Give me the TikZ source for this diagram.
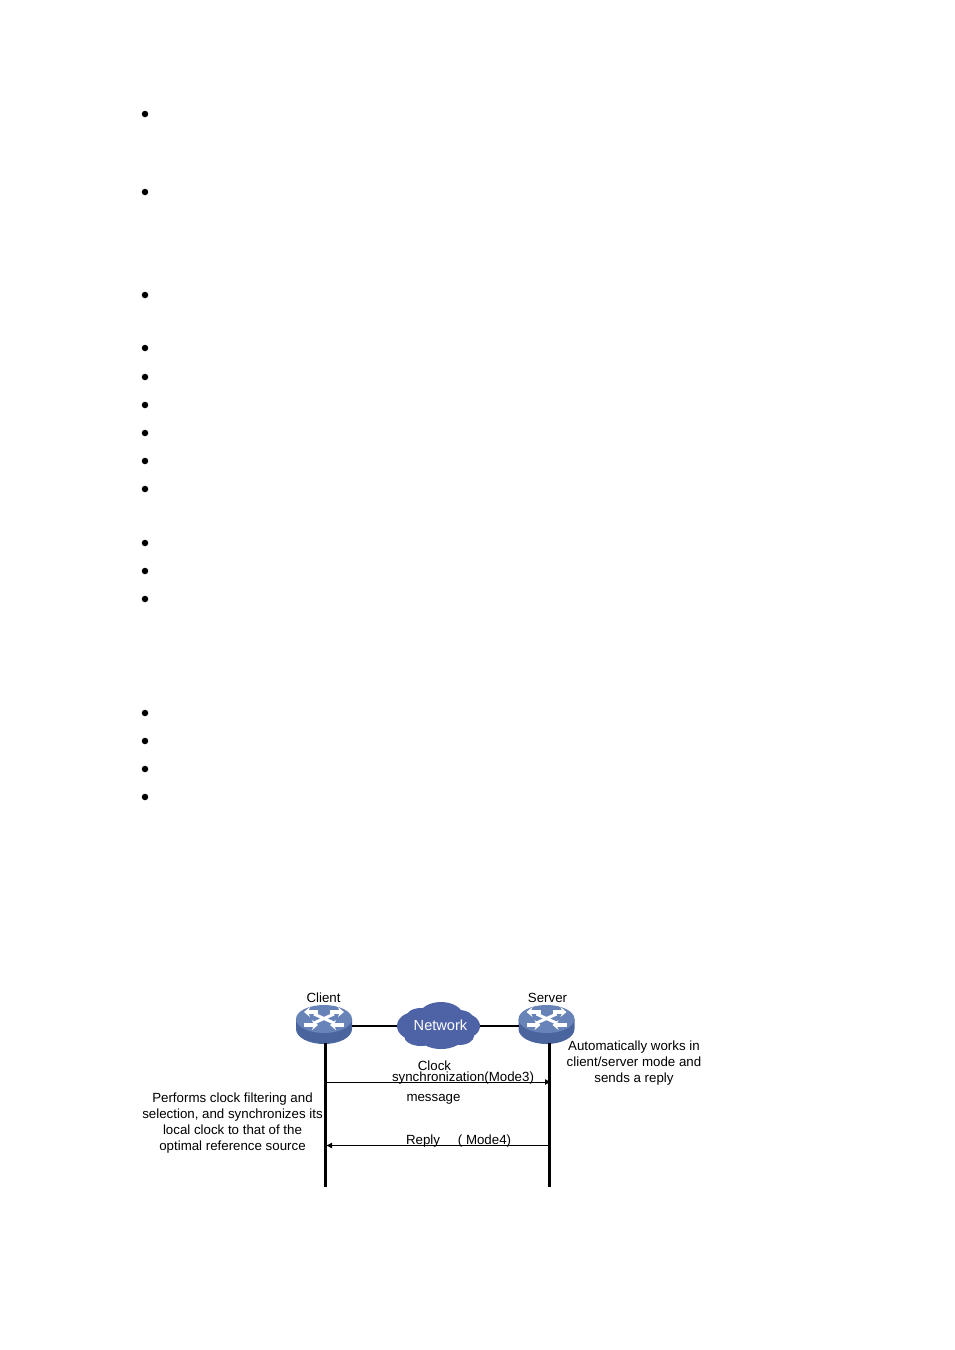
\documentclass[tikz,border=0pt]{standalone}
\usepackage{fontspec}
\setmainfont{Liberation Sans}
\usetikzlibrary{arrows.meta}
\definecolor{swtop}{RGB}{104,131,184}
\definecolor{swside}{RGB}{74,100,158}
\definecolor{netblue}{RGB}{78,98,166}
\tikzset{
  label/.style={font=\fontsize{13.3}{16}\selectfont, align=center, inner sep=0pt},
  bullet/.style={circle, fill=black, inner sep=0pt, minimum size=6.5pt},
  wire/.style={line width=2pt},
  life/.style={line width=2.6pt},
  msg/.style={line width=0.8pt, -{Latex[length=6pt,width=6pt]}},
  swarrow/.style={white, line width=3.4pt, -{Stealth[length=6pt,width=10pt]}},
  switchicon/.pic={
    \fill[swside] (-28,-10) -- (-28,0) arc[start angle=180, end angle=0, x radius=28, y radius=15] -- (28,-10) -- cycle;
    \fill[swtop] (0,-10) ellipse[x radius=28, y radius=14];
    \draw[swarrow] (-6,-17) -- (-20,-17);
    \draw[swarrow] (6,-17) -- (20,-17);
    \draw[swarrow] (-20,-4) -- (-6,-4);
    \draw[swarrow] (20,-4) -- (6,-4);
    \draw[white, line width=3pt] (-10,-15) -- (10,-6) (10,-15) -- (-10,-6);
  }
}
\begin{document}
\begin{tikzpicture}[x=1pt,y=-1pt]
  \useasboundingbox (0,0) rectangle (954,1350);
  % bullets
  \foreach \y [count=\i] in {114,192,295,348,377,405,433,461,489,543,571,599,713,741,769,797}
    \node[bullet] (b\i) at (145,\y) {};
  % cloud
  \fill[netblue] (438,1026) ellipse[x radius=41, y radius=15]
    (415,1026) ellipse[x radius=18, y radius=14]
    (462,1026) ellipse[x radius=18, y radius=13]
    (421,1017) ellipse[x radius=15, y radius=9]
    (441,1016) ellipse[x radius=22, y radius=14]
    (459,1018) ellipse[x radius=14, y radius=8]
    (421,1036) ellipse[x radius=17, y radius=10]
    (441,1037) ellipse[x radius=22, y radius=12]
    (459,1036) ellipse[x radius=15, y radius=9];
  \node[label, white, font=\fontsize{14.6}{16}\selectfont] (network) at (440.5,1025.5) {Network};
  \coordinate (netleft) at (397,1026);
  \coordinate (netright) at (480,1026);
  % devices
  \pic at (324,1029) {switchicon};
  \pic at (546.5,1029) {switchicon};
  \coordinate (clientport) at (352,1026);
  \coordinate (serverport) at (519,1026);
  \coordinate (clienttop) at (325.5,1043);
  \coordinate (servertop) at (549.5,1043);
  \coordinate (clientend) at (325.5,1187);
  \coordinate (serverend) at (549.5,1187);
  \node[label] (client) at (323.5,998) {Client};
  \node[label] (server) at (547.5,998) {Server};
  \draw[wire] (clientport) -- (netleft);
  \draw[wire] (netright) -- (serverport);
  \draw[life] (clienttop) -- (clientend);
  \draw[life] (servertop) -- (serverend);
  % messages
  \coordinate (clockfrom) at (325.5,1082);
  \coordinate (clockto) at (551,1082);
  \coordinate (replyfrom) at (549.5,1145.5);
  \coordinate (replyto) at (326,1145.5);
  \draw[msg] (clockfrom) -- (clockto);
  \draw[msg] (replyfrom) -- (replyto);
  \node[label] (clock) at (434.5,1065.5) {Clock};
  \node[label] (sync) at (463,1078) {synchronization(Mode3)};
  \node[label] (message) at (433.5,1099.5) {message};
  \node[label] (reply) at (423,1141) {Reply};
  \node[label] (mode) at (484.5,1141) {( Mode4)};
  % notes
  \node[label] (clientnote) at (232.5,1123.5) {Performs clock filtering and\\selection, and synchronizes its\\local clock to that of the\\optimal reference source};
  \node[label] (servernote) at (634,1063.5) {Automatically works in\\client/server mode and\\sends a reply};
\end{tikzpicture}
\end{document}
